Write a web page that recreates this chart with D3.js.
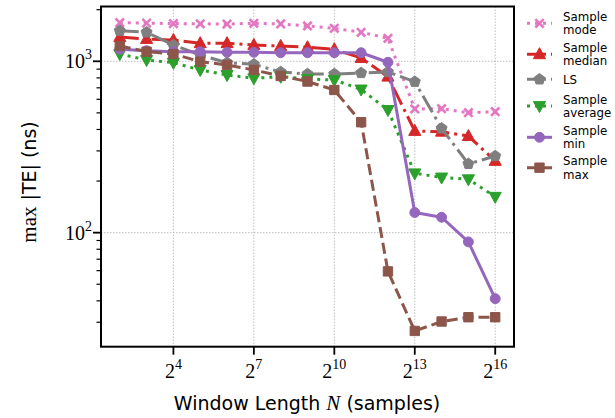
<!DOCTYPE html>
<html>
<head>
<meta charset="utf-8">
<script src="https://cdn.jsdelivr.net/npm/d3@7"></script>
<style>
  body { margin: 0; background: #fff; }
  text { font-family: "DejaVu Sans", sans-serif; }
  .math { font-family: "Liberation Serif", "DejaVu Serif", serif; }
</style>
</head>
<body>
<div id="chart"></div>
<script>
// window length exponents: N = 2^e
const windowExp = [2, 3, 4, 5, 6, 7, 8, 9, 10, 11, 12, 13, 14, 15, 16];

const sampleMode   = [1680, 1670, 1660, 1655, 1650, 1666, 1651, 1607, 1558, 1476, 1362, 527, 529, 501, 508];
const sampleMedian = [1386, 1349, 1331, 1274, 1274, 1245, 1228, 1207, 1175, 1045, 813, 392, 388, 366, 262];
const lsValues     = [1508, 1476, 1245, 1088, 981, 960, 866, 843, 843, 855, 866, 760, 406, 252, 280];
const sampleAvg    = [1103, 1018, 981, 890, 832, 796, 813, 788, 778, 685, 520, 222, 210, 205, 162];
const sampleMin    = [1175, 1153, 1138, 1138, 1128, 1128, 1122, 1122, 1122, 1122, 987, 131, 123, 88.3, 41.2];
const sampleMax    = [1228, 1138, 1103, 995, 952, 890, 821, 762, 680, 441, 59.4, 26.7, 30.3, 32.1, 32.1];

const seriesNames = [["Sample", "mode"], ["Sample", "median"], ["LS"], ["Sample", "average"], ["Sample", "min"], ["Sample", "max"]];
const xTickExp = [4, 7, 10, 13, 16];
const yTickExp = [2, 3];

const series = [
  {name: seriesNames[0], values: sampleMode,   color: "#e377c2", dash: "3,5",        marker: "x"},
  {name: seriesNames[1], values: sampleMedian, color: "#d62728", dash: "19,5,3,5",   marker: "tri-up"},
  {name: seriesNames[2], values: lsValues,     color: "#7f7f7f", dash: "19,5,3,5",   marker: "pentagon"},
  {name: seriesNames[3], values: sampleAvg,    color: "#2ca02c", dash: "3,5",        marker: "tri-down"},
  {name: seriesNames[4], values: sampleMin,    color: "#9467bd", dash: null,         marker: "circle"},
  {name: seriesNames[5], values: sampleMax,    color: "#8c564b", dash: "11,5",       marker: "square"}
];

const W = 615, H = 418;
const plot = {left: 101, right: 514, top: 6.5, bottom: 346.7};

const svg = d3.select("#chart").append("svg")
  .attr("width", W).attr("height", H);

const x = d3.scaleLog().base(2)
  .domain([Math.pow(2, 1.3), Math.pow(2, 16.7)])
  .range([plot.left, plot.right]);
const y = d3.scaleLog()
  .domain([21.6, 2088])
  .range([plot.bottom, plot.top]);

// grid
const grid = svg.append("g");
xTickExp.forEach(e => {
  grid.append("line")
    .attr("x1", x(2 ** e)).attr("x2", x(2 ** e))
    .attr("y1", plot.top).attr("y2", plot.bottom)
    .attr("stroke", "#b0b0b0").attr("stroke-width", 0.8).attr("stroke-dasharray", "1.5,1.5");
});
yTickExp.forEach(e => {
  grid.append("line")
    .attr("x1", plot.left).attr("x2", plot.right)
    .attr("y1", y(10 ** e)).attr("y2", y(10 ** e))
    .attr("stroke", "#b0b0b0").attr("stroke-width", 0.8).attr("stroke-dasharray", "1.5,1.5");
});

function markerPath(type, s) {
  const p = d3.path();
  if (type === "x") {
    p.moveTo(-s, -s); p.lineTo(s, s);
    p.moveTo(-s, s); p.lineTo(s, -s);
  } else if (type === "tri-up" || type === "tri-down") {
    const k = type === "tri-up" ? 1 : -1;
    p.moveTo(0, -k * s * 1.2); p.lineTo(s * 1.1, k * s * 0.8); p.lineTo(-s * 1.1, k * s * 0.8); p.closePath();
  } else if (type === "pentagon") {
    for (let i = 0; i < 5; i++) {
      const a = -Math.PI / 2 + i * 2 * Math.PI / 5;
      const r = s * 1.05;
      if (i === 0) p.moveTo(r * Math.cos(a), r * Math.sin(a));
      else p.lineTo(r * Math.cos(a), r * Math.sin(a));
    }
    p.closePath();
  } else if (type === "circle") {
    p.arc(0, 0, s * 0.9, 0, 2 * Math.PI);
  } else if (type === "square") {
    p.rect(-s * 0.85, -s * 0.85, s * 1.7, s * 1.7);
  }
  return p.toString();
}

function drawMarker(g, type, cx, cy, color) {
  const m = g.append("path")
    .attr("transform", `translate(${cx},${cy})`)
    .attr("d", markerPath(type, type === "x" ? 4.2 : 5.5));
  if (type === "x") m.attr("fill", "none").attr("stroke", color).attr("stroke-width", 2.6);
  else m.attr("fill", color).attr("stroke", color).attr("stroke-width", 1);
}

const line = d3.line()
  .x((d, i) => x(2 ** windowExp[i]))
  .y(d => y(d));

svg.append("clipPath").attr("id", "plotclip")
  .append("rect").attr("x", plot.left).attr("y", plot.top)
  .attr("width", plot.right - plot.left).attr("height", plot.bottom - plot.top);

const marks = svg.append("g").attr("clip-path", "url(#plotclip)");
series.forEach(s => {
  const g = marks.append("g");
  g.append("path")
    .datum(s.values)
    .attr("d", line)
    .attr("fill", "none")
    .attr("stroke", s.color)
    .attr("stroke-width", 3)
    .attr("stroke-dasharray", s.dash)
    .attr("stroke-linejoin", "round");
  s.values.forEach((v, i) => drawMarker(g, s.marker, x(2 ** windowExp[i]), y(v), s.color));
});

// spines
svg.append("rect")
  .attr("x", plot.left).attr("y", plot.top)
  .attr("width", plot.right - plot.left).attr("height", plot.bottom - plot.top)
  .attr("fill", "none").attr("stroke", "#000").attr("stroke-width", 2);

// x axis ticks
xTickExp.forEach(e => {
  const px = x(2 ** e);
  svg.append("line").attr("x1", px).attr("x2", px)
    .attr("y1", plot.bottom).attr("y2", plot.bottom + 8)
    .attr("stroke", "#000").attr("stroke-width", 1.8);
  const t = svg.append("text").attr("class", "math")
    .attr("x", px).attr("y", 378).attr("text-anchor", "middle")
    .attr("font-size", 20);
  t.append("tspan").text("2");
  t.append("tspan").attr("dy", -9).attr("font-size", 14).text(e);
});

// y axis ticks (major + minor)
const yMinor = [];
[10, 100, 1000].forEach(b => { for (let k = 2; k <= 9; k++) yMinor.push(b * k); });
yMinor.filter(v => v >= 21.6 && v <= 2088).forEach(v => {
  svg.append("line").attr("x1", plot.left - 4.5).attr("x2", plot.left)
    .attr("y1", y(v)).attr("y2", y(v))
    .attr("stroke", "#000").attr("stroke-width", 1.2);
});
yTickExp.forEach(e => {
  const py = y(10 ** e);
  svg.append("line").attr("x1", plot.left - 8).attr("x2", plot.left)
    .attr("y1", py).attr("y2", py)
    .attr("stroke", "#000").attr("stroke-width", 1.8);
  const t = svg.append("text").attr("class", "math")
    .attr("x", 92).attr("y", py + 7).attr("text-anchor", "end")
    .attr("font-size", 20);
  t.append("tspan").text("10");
  t.append("tspan").attr("dy", -9).attr("font-size", 14).text(e);
});

// axis labels
const xl = svg.append("text").attr("x", 307).attr("y", 410)
  .attr("text-anchor", "middle").attr("font-size", 19);
xl.append("tspan").text("Window Length ");
xl.append("tspan").attr("class", "math").attr("font-style", "italic").attr("font-size", 21).text("N");
xl.append("tspan").text(" (samples)");

const yl = svg.append("text")
  .attr("transform", "translate(36,182) rotate(-90)")
  .attr("text-anchor", "middle").attr("font-size", 19);
yl.append("tspan").attr("class", "math").attr("font-size", 21).text("max");
yl.append("tspan").text(" |TE| (ns)");

// legend
const legendY = [23.3, 54.3, 79.3, 106, 137.3, 167.7];
const legend = svg.append("g");
series.forEach((s, i) => {
  const ly = legendY[i];
  legend.append("line")
    .attr("x1", 527).attr("x2", 552).attr("y1", ly).attr("y2", ly)
    .attr("stroke", s.color).attr("stroke-width", 3)
    .attr("stroke-dasharray", s.dash);
  drawMarker(legend, s.marker, 539.5, ly, s.color);
  const lines = s.name;
  const t = legend.append("text").attr("x", 563).attr("font-size", 11.8);
  if (lines.length === 1) {
    t.attr("y", ly + 5).text(lines[0]);
  } else {
    t.append("tspan").attr("x", 563).attr("y", ly - 2.5).text(lines[0]);
    t.append("tspan").attr("x", 563).attr("y", ly + 11).text(lines[1]);
  }
});
</script>
</body>
</html>
